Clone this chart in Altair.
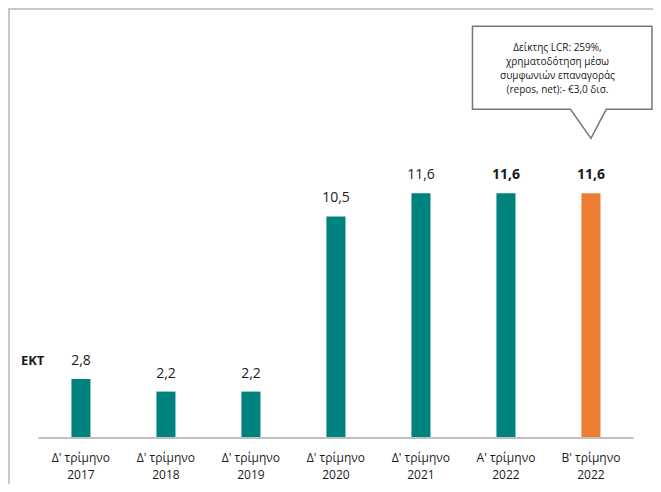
import altair as alt
import pandas as pd

quarters = ["Δ' τρίμηνο", "Δ' τρίμηνο", "Δ' τρίμηνο", "Δ' τρίμηνο", "Δ' τρίμηνο", "Α' τρίμηνο", "Β' τρίμηνο"]
years = ["2017", "2018", "2019", "2020", "2021", "2022", "2022"]
values = [2.8, 2.2, 2.2, 10.5, 11.6, 11.6, 11.6]
series_label = "ΕΚΤ"
callout_lines = ["Δείκτης LCR: 259%,", "χρηματοδότηση μέσω", "συμφωνιών επαναγοράς", "(repos, net):- €3,0 δισ."]

TEAL = "#00837E"
ORANGE = "#ED7D31"
TXT = "#1a1a1a"
FONT = "Open Sans"

df = pd.DataFrame({
    "period": [f"{q}|{y}" for q, y in zip(quarters, years)],
    "value": values,
})
df["label"] = df["value"].map(lambda v: f"{v:.1f}".replace(".", ","))
df["idx"] = list(range(len(df)))
last = len(df) - 1

W, H = 645, 476
xscale = alt.Scale(paddingInner=0.776, paddingOuter=0.682, align=0.547)
yscale = alt.Scale(domain=[-2.180, 20.379], nice=False, zero=False)

xenc = alt.X(
    "period:N", sort=None, scale=xscale,
    axis=alt.Axis(
        title=None, labelExpr="split(datum.label, '|')", labelAngle=0,
        labelFont=FONT, labelFontSize=12, labelColor=TXT, labelPadding=14,
        labelLineHeight=17, ticks=False, grid=False, domain=False,
        labelLimit=0, offset=-46,
    ),
)
xs = alt.X("period:N", sort=None, scale=xscale)

base = alt.Chart(df)

baseline = base.transform_filter(alt.datum.idx == 0).transform_calculate(
    zero="0"
).mark_rule(color="#bfbfbf", strokeWidth=2).encode(
    x=alt.value(30.5), x2=alt.value(625.5), y=alt.Y("zero:Q", scale=yscale)
)

bars = base.mark_bar().encode(
    x=xenc,
    y=alt.Y("value:Q", scale=yscale, axis=None),
    color=alt.condition(alt.datum.idx == last, alt.value(ORANGE), alt.value(TEAL)),
)

labels_normal = base.transform_filter(alt.datum.idx < 5).mark_text(
    font=FONT, fontSize=14, color=TXT, baseline="alphabetic", dy=-14
).encode(x=xs, y=alt.Y("value:Q", scale=yscale), text="label:N")

labels_bold = base.transform_filter(alt.datum.idx >= 5).mark_text(
    font=FONT, fontSize=14, fontWeight="bold", color=TXT, baseline="alphabetic", dy=-14
).encode(x=xs, y=alt.Y("value:Q", scale=yscale), text="label:N")

series_text = base.transform_filter(alt.datum.idx == 0).mark_text(
    font=FONT, fontSize=13, fontWeight="bold", color=TXT, align="left",
    baseline="alphabetic", dx=-60, dy=-14
).encode(x=xs, y=alt.Y("value:Q", scale=yscale), text=alt.value(series_label))

callout_path = ("M -1.302 -1.231 L 0.670 -1.231 L 0.670 -0.319 L 0.168 -0.319 "
                "L 0 0 L -0.225 -0.319 L -1.302 -0.319 Z")
callout_anchor = 14.2

callout_box = base.transform_filter(alt.datum.idx == last).mark_point(
    shape=callout_path, size=33124, filled=True, fill="white", stroke="#767676",
    strokeWidth=1.5, opacity=1
).encode(x=xs, y=alt.datum(callout_anchor))

callout_text = base.transform_filter(alt.datum.idx == last).mark_text(
    font=FONT, fontSize=10, color=TXT, align="center", baseline="middle",
    lineBreak="\n", lineHeight=14, dx=-33.5, dy=-90
).encode(x=xs, y=alt.datum(callout_anchor),
         text=alt.value("\n".join(callout_lines)))

frame_left = alt.Chart(df).mark_rule(color="#c8c8c8", strokeWidth=2).encode(
    x=alt.value(1), y=alt.value(0), y2=alt.value(H)
)
frame_top = alt.Chart(df).mark_rule(color="#c8c8c8", strokeWidth=1.5).encode(
    x=alt.value(0), x2=alt.value(W), y=alt.value(0.75)
)

chart = alt.layer(
    frame_left, frame_top, bars, baseline, labels_normal, labels_bold, series_text,
    callout_box, callout_text
).properties(
    width=W, height=H,
    autosize=alt.AutoSizeParams(type="none"),
    padding=0,
).configure_view(stroke=None).configure(font=FONT)

chart.save("out.html", embed_options={"renderer": "svg", "actions": False})
